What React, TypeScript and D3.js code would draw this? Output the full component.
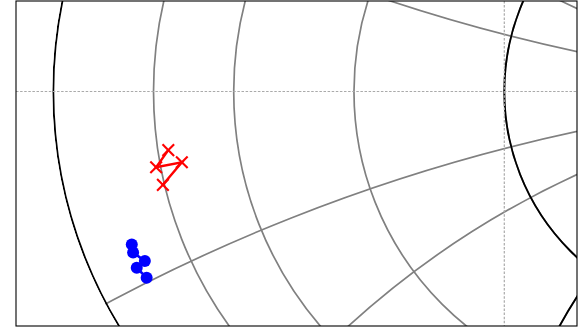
import React from "react";
import * as d3 from "d3";

// Reflection coefficient data (real / imaginary parts)
const redReal = [-0.745, -0.772, -0.715, -0.757];
const redImag = [-0.13, -0.168, -0.157, -0.207];
const blueReal = [-0.826, -0.823, -0.797, -0.815, -0.793];
const blueImag = [-0.339, -0.357, -0.376, -0.391, -0.413];

// Smith chart contour values
const rLight = [0.125, 0.25, 0.5, 1, 2, 4, 8, 16, 32];
const xLight = [0.25, 0.5, 1, 2, 4, 8, 16, 32, -0.25, -0.5, -1, -2, -4, -8, -16, -32];
const rHeavy = [0, 1];
const xHeavy = [1, -1];

// view limits (zoomed region of the chart)
const xLim = [-1.0827, 0.1612];
const yLim = [-0.52, 0.2007];

const W = 584;
const H = 327;
const L = 16, R = 577, T = 1, B = 326;

export default function App() {
  const xs = d3.scaleLinear().domain(xLim).range([L, R]);
  const ys = d3.scaleLinear().domain(yLim).range([B, T]);
  const k = xs(1) - xs(0);

  const rCircle = (r: number) => ({ cx: xs(r / (1 + r)), cy: ys(0), rad: k / (1 + r) });
  const xCircle = (x: number) => ({ cx: xs(1), cy: ys(1 / x), rad: Math.abs(k / x) });

  const redPts = redReal.map((v, i) => [xs(v), ys(redImag[i])] as [number, number]);
  const bluePts = blueReal.map((v, i) => [xs(v), ys(blueImag[i])] as [number, number]);
  const path = d3.line();

  const xm = 5.8;

  return (
    <svg width={W} height={H} style={{ position: "absolute", left: 0, top: 0 }}>
      <defs>
        <clipPath id="ax">
          <rect x={L} y={T} width={R - L} height={B - T} />
        </clipPath>
        <clipPath id="unit">
          <circle cx={xs(0)} cy={ys(0)} r={k + 1} />
        </clipPath>
      </defs>
      <rect x={0} y={0} width={W} height={H} fill="white" />
      <g clipPath="url(#ax)">
        <g clipPath="url(#unit)" fill="none">
          {rLight.map((r) => {
            const c = rCircle(r);
            return <circle key={"rl" + r} cx={c.cx} cy={c.cy} r={c.rad} stroke="#808080" strokeWidth={1.7} />;
          })}
          {xLight.map((x) => {
            const c = xCircle(x);
            return <circle key={"xl" + x} cx={c.cx} cy={c.cy} r={c.rad} stroke="#808080" strokeWidth={1.7} />;
          })}
          {rHeavy.map((r) => {
            const c = rCircle(r);
            return <circle key={"rh" + r} cx={c.cx} cy={c.cy} r={c.rad} stroke="#000" strokeWidth={1.9} />;
          })}
          {xHeavy.map((x) => {
            const c = xCircle(x);
            return <circle key={"xh" + x} cx={c.cx} cy={c.cy} r={c.rad} stroke="#000" strokeWidth={1.9} />;
          })}
        </g>
        <line x1={L} x2={R} y1={ys(0)} y2={ys(0)} stroke="#aaaaaa" strokeWidth={1.2} strokeDasharray="2.5,1.6" />
        <line x1={xs(0)} x2={xs(0)} y1={T} y2={B} stroke="#aaaaaa" strokeWidth={1.2} strokeDasharray="2.5,1.6" />
        <path d={path(redPts) || ""} fill="none" stroke="red" strokeWidth={2.4} />
        {redPts.map(([px, py], i) => (
          <g key={"rm" + i} stroke="red" strokeWidth={2.1}>
            <line x1={px - xm} y1={py - xm} x2={px + xm} y2={py + xm} />
            <line x1={px - xm} y1={py + xm} x2={px + xm} y2={py - xm} />
          </g>
        ))}
        <path d={path(bluePts) || ""} fill="none" stroke="blue" strokeWidth={2.6} />
        {bluePts.map(([px, py], i) => (
          <circle key={"bm" + i} cx={px} cy={py} r={6} fill="blue" />
        ))}
      </g>
      <rect x={L} y={T} width={R - L} height={B - T} fill="none" stroke="#000" strokeWidth={1.1} />
    </svg>
  );
}
